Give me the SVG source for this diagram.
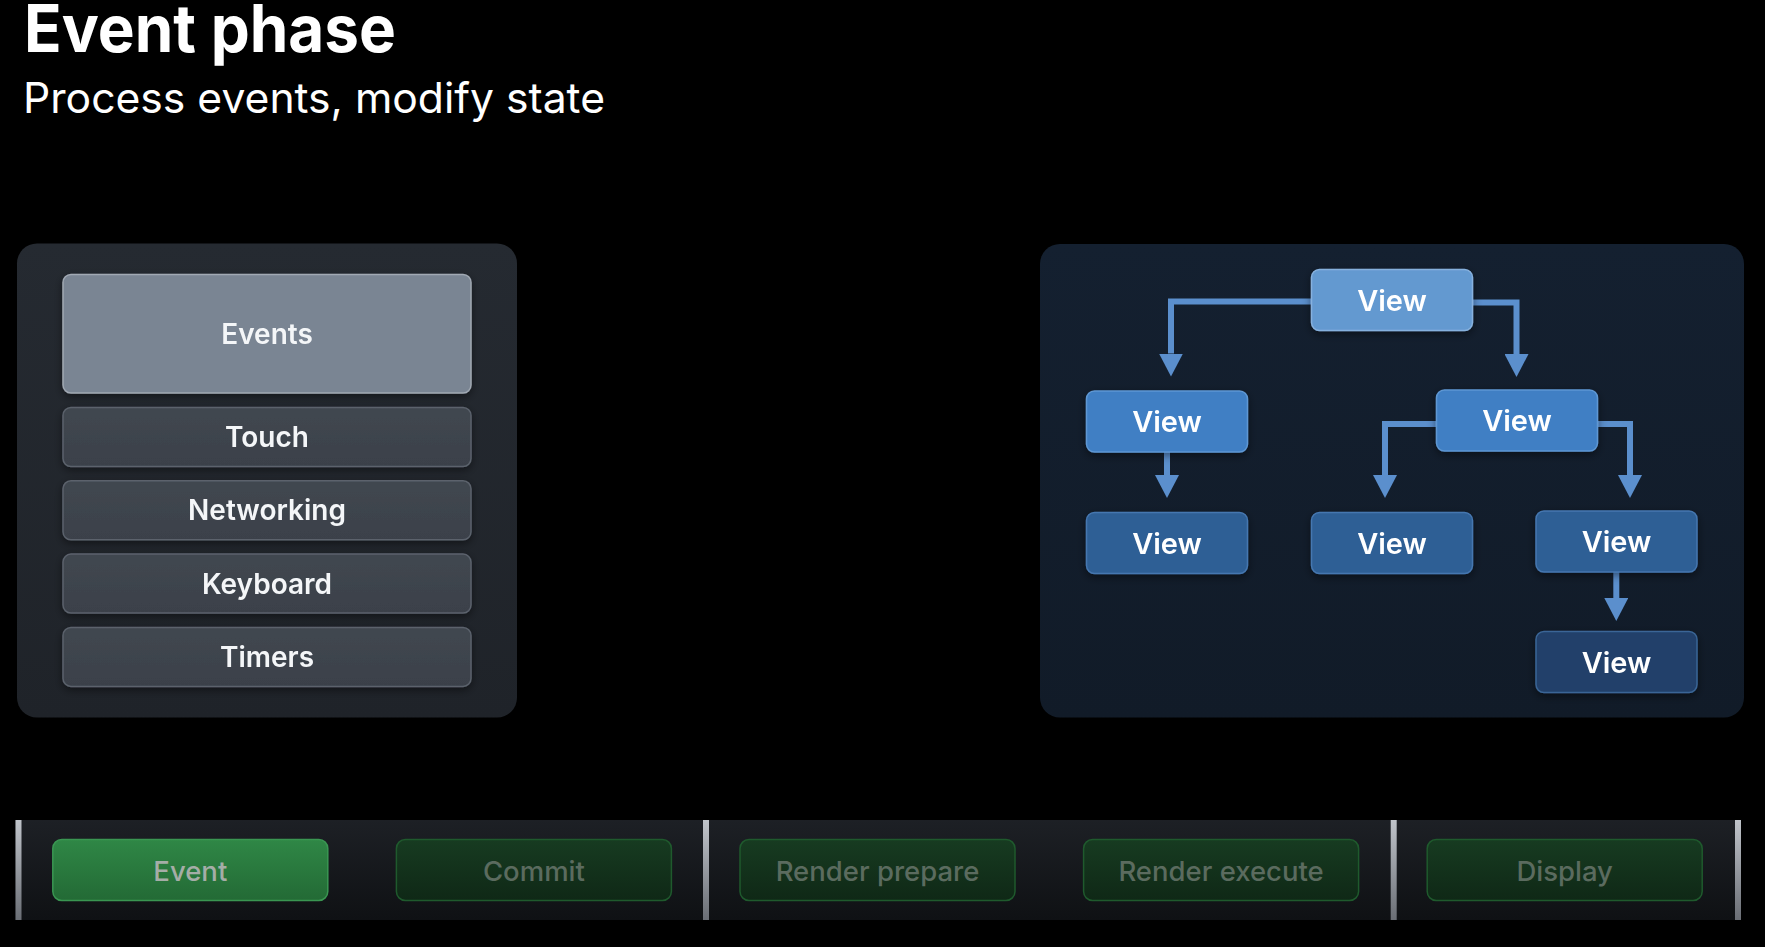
<svg xmlns="http://www.w3.org/2000/svg" width="1765" height="947" viewBox="0 0 1765 947">
  <style>
    .title { font-family: Inter, "Liberation Sans", sans-serif; font-weight: 700; fill: #ffffff; }
    .sub { font-family: Inter, "Liberation Sans", sans-serif; font-weight: 400; fill: #ffffff; }
    .lbl { font-family: Inter, "Liberation Sans", sans-serif; font-weight: 600; font-size: 28px; fill: #f4f6f8; text-anchor: middle; }
    .vlbl { font-family: Inter, "Liberation Sans", sans-serif; font-weight: 600; font-size: 29px; fill: #ffffff; text-anchor: middle; }
    .blbl { font-family: Inter, "Liberation Sans", sans-serif; font-weight: 500; font-size: 27.5px; text-anchor: middle; }
    .evbox { fill: #7a8593; stroke: #a1a9b3; stroke-width: 1.5; }
    .ebox { fill: url(#gBox); stroke: #5b626c; stroke-width: 1.5; }
    .conn { fill: none; stroke: #5b8fcd; stroke-width: 6; stroke-linejoin: miter; marker-end: url(#arr); }
    .sep { fill: url(#gSep); }
  </style>
  <defs>
    <linearGradient id="gLeft" x1="0" y1="0" x2="0" y2="1">
      <stop offset="0" stop-color="#252a31"/>
      <stop offset="1" stop-color="#1f2329"/>
    </linearGradient>
    <linearGradient id="gRight" x1="0" y1="0" x2="0" y2="1">
      <stop offset="0" stop-color="#142030"/>
      <stop offset="1" stop-color="#111b28"/>
    </linearGradient>
    <linearGradient id="gBox" x1="0" y1="0" x2="0" y2="1">
      <stop offset="0" stop-color="#414750"/>
      <stop offset="1" stop-color="#3b414a"/>
    </linearGradient>
    <linearGradient id="gBar" x1="0" y1="0" x2="0" y2="1">
      <stop offset="0" stop-color="#1d2025"/>
      <stop offset="1" stop-color="#0f1114"/>
    </linearGradient>
    <linearGradient id="gSep" x1="0" y1="0" x2="0" y2="1">
      <stop offset="0" stop-color="#c0c4ca"/>
      <stop offset="1" stop-color="#6a6e75"/>
    </linearGradient>
    <linearGradient id="gOn" x1="0" y1="0" x2="0" y2="1">
      <stop offset="0" stop-color="#2f8746"/>
      <stop offset="1" stop-color="#236a35"/>
    </linearGradient>
    <linearGradient id="gOff" x1="0" y1="0" x2="0" y2="1">
      <stop offset="0" stop-color="#173b21"/>
      <stop offset="1" stop-color="#0f2816"/>
    </linearGradient>
    <filter id="sh" x="-20%" y="-20%" width="140%" height="150%">
      <feDropShadow dx="0" dy="3" stdDeviation="4" flood-color="#000000" flood-opacity="0.45"/>
    </filter>
    <marker id="arr" viewBox="0 0 23 24" refX="0" refY="12" markerWidth="23" markerHeight="24" markerUnits="userSpaceOnUse" orient="auto">
      <path d="M0,0 L23,12 L0,24 Z" fill="#5b8fcd"/>
    </marker>
  </defs>

  <rect x="0" y="0" width="1765" height="947" fill="#000000"/>

  <g id="title">
    <text class="title" x="24" y="52" font-size="66" textLength="372" lengthAdjust="spacingAndGlyphs">Event phase</text>
    <text class="sub" x="23" y="113" font-size="42" textLength="582" lengthAdjust="spacingAndGlyphs">Process events, modify state</text>
  </g>

  <g id="events-panel">
    <rect x="17" y="243.5" width="500" height="474" rx="20" fill="url(#gLeft)"/>
    <g id="events" filter="url(#sh)">
      <rect class="evbox" x="63" y="274.5" width="408" height="118.5" rx="8"/>
      <text class="lbl" x="267" y="344">Events</text>
    </g>
    <g id="touch" filter="url(#sh)">
      <rect class="ebox" x="63" y="407.5" width="408" height="59" rx="8"/>
      <text class="lbl" x="267" y="447">Touch</text>
    </g>
    <g id="networking" filter="url(#sh)">
      <rect class="ebox" x="63" y="480.8" width="408" height="59" rx="8"/>
      <text class="lbl" x="267" y="520.3">Networking</text>
    </g>
    <g id="keyboard" filter="url(#sh)">
      <rect class="ebox" x="63" y="554.1" width="408" height="59" rx="8"/>
      <text class="lbl" x="267" y="593.6">Keyboard</text>
    </g>
    <g id="timers" filter="url(#sh)">
      <rect class="ebox" x="63" y="627.4" width="408" height="59" rx="8"/>
      <text class="lbl" x="267" y="666.9">Timers</text>
    </g>
  </g>

  <g id="view-panel">
    <rect x="1040" y="244" width="704" height="473.5" rx="20" fill="url(#gRight)"/>
  </g>

  <g id="connectors">
    <path class="conn" d="M1320,301.5 H1171 V353.5"/>
    <path class="conn" d="M1464,302.5 H1516.5 V354"/>
    <path class="conn" d="M1167,450 V475"/>
    <path class="conn" d="M1445,424 H1385 V475"/>
    <path class="conn" d="M1589,424 H1630 V475"/>
    <path class="conn" d="M1616.3,570 V598"/>
  </g>

  <g id="view-root" filter="url(#sh)">
    <rect x="1311.5" y="269.5" width="161" height="61" rx="8" fill="#6499d0" stroke="#86b1de" stroke-width="1.5"/>
    <text class="vlbl" x="1392" y="310.5">View</text>
  </g>
  <g id="view-l2-left" filter="url(#sh)">
    <rect x="1086.5" y="391" width="161" height="61" rx="8" fill="#3f7fc4" stroke="#5e97d3" stroke-width="1.5"/>
    <text class="vlbl" x="1167" y="432">View</text>
  </g>
  <g id="view-l2-right" filter="url(#sh)">
    <rect x="1436.5" y="390" width="161" height="61" rx="8" fill="#3f7fc4" stroke="#5e97d3" stroke-width="1.5"/>
    <text class="vlbl" x="1517" y="431">View</text>
  </g>
  <g id="view-l3-left" filter="url(#sh)">
    <rect x="1086.5" y="512.5" width="161" height="61" rx="8" fill="#2f5f95" stroke="#4577b0" stroke-width="1.5"/>
    <text class="vlbl" x="1167" y="553.5">View</text>
  </g>
  <g id="view-l3-mid" filter="url(#sh)">
    <rect x="1311.5" y="512.5" width="161" height="61" rx="8" fill="#2f5f95" stroke="#4577b0" stroke-width="1.5"/>
    <text class="vlbl" x="1392" y="553.5">View</text>
  </g>
  <g id="view-l3-right" filter="url(#sh)">
    <rect x="1536" y="511" width="161" height="61" rx="8" fill="#2f5f95" stroke="#4577b0" stroke-width="1.5"/>
    <text class="vlbl" x="1616.5" y="552">View</text>
  </g>
  <g id="view-l4" filter="url(#sh)">
    <rect x="1536" y="631.5" width="161" height="61" rx="8" fill="#22416a" stroke="#3a6596" stroke-width="1.5"/>
    <text class="vlbl" x="1616.5" y="672.5">View</text>
  </g>

  <g id="phase-bar">
    <rect x="15.5" y="820" width="1725" height="100" fill="url(#gBar)"/>
    <rect class="sep" x="15.5" y="820" width="6" height="100"/>
    <rect class="sep" x="703" y="820" width="6" height="100"/>
    <rect class="sep" x="1390.7" y="820" width="6" height="100"/>
    <rect class="sep" x="1735" y="820" width="6" height="100"/>
  </g>
  <g id="phase-event">
    <rect x="52.8" y="839.5" width="275" height="61" rx="9" fill="url(#gOn)" stroke="#3a9652" stroke-width="1.5"/>
    <text class="blbl" x="190.3" y="880.5" fill="#a5ada7">Event</text>
  </g>
  <g id="phase-commit">
    <rect x="396.4" y="839.5" width="275" height="61" rx="9" fill="url(#gOff)" stroke="#1f5a2d" stroke-width="1.5"/>
    <text class="blbl" x="533.9" y="880.5" fill="#5b6b5f">Commit</text>
  </g>
  <g id="phase-render-prepare">
    <rect x="740" y="839.5" width="275" height="61" rx="9" fill="url(#gOff)" stroke="#1f5a2d" stroke-width="1.5"/>
    <text class="blbl" x="877.5" y="880.5" fill="#5b6b5f">Render prepare</text>
  </g>
  <g id="phase-render-execute">
    <rect x="1083.6" y="839.5" width="275" height="61" rx="9" fill="url(#gOff)" stroke="#1f5a2d" stroke-width="1.5"/>
    <text class="blbl" x="1221.1" y="880.5" fill="#5b6b5f">Render execute</text>
  </g>
  <g id="phase-display">
    <rect x="1427.2" y="839.5" width="275" height="61" rx="9" fill="url(#gOff)" stroke="#1f5a2d" stroke-width="1.5"/>
    <text class="blbl" x="1564.7" y="880.5" fill="#5b6b5f">Display</text>
  </g>
</svg>
